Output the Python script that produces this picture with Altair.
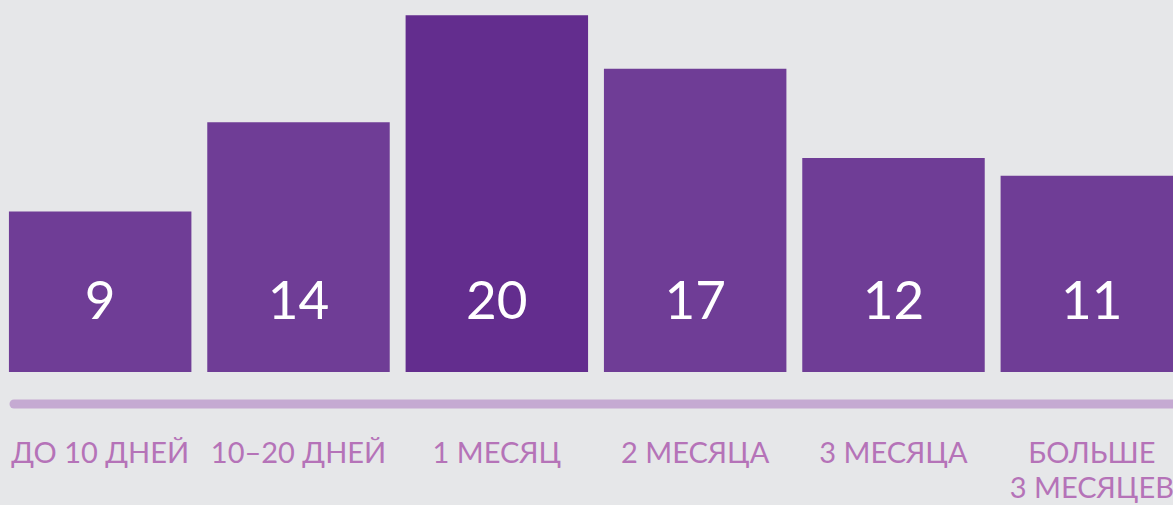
import altair as alt
import pandas as pd

categories = ["c1", "c2", "c3", "c4", "c5", "c6"]
labels = ["ДО 10 ДНЕЙ", "10–20 ДНЕЙ", "1 МЕСЯЦ", "2 МЕСЯЦА", "3 МЕСЯЦА", "БОЛЬШЕ\n3 МЕСЯЦЕВ"]
values = [9, 14, 20, 17, 12, 11]
highlight = ["no", "no", "yes", "no", "no", "no"]

df = pd.DataFrame({"cat": categories, "value": values, "label": labels, "hl": highlight})

BG = "#e6e7e9"
FONT = "Lato"

x = alt.X("cat:N", sort=None, axis=None,
          scale=alt.Scale(range=[1, 1191], paddingInner=0.08, paddingOuter=0.04))

base = alt.Chart(df)

bars = base.mark_bar(clip=True).encode(
    x=x,
    y=alt.Y("value:Q", axis=None, scale=alt.Scale(domain=[0, 20.85], range=[372, 0], nice=False, zero=True)),
    color=alt.Color("hl:N", legend=None,
                    scale=alt.Scale(domain=["no", "yes"], range=["#6f3d96", "#632d8e"])),
)

nums = base.mark_text(color="white", font=FONT, fontSize=53, baseline="middle", align="center").encode(
    x=x,
    y=alt.value(303),
    text=alt.Text("value:Q"),
)

line = alt.Chart(pd.DataFrame({"a": [0]})).mark_rule(
    color="#c5aad2", strokeWidth=9, strokeCap="round"
).encode(x=alt.value(14), x2=alt.value(1190), y=alt.value(404))

cat_labels = base.mark_text(color="#b573b8", font=FONT, fontSize=29, baseline="top",
                            align="center", lineBreak="\n", lineHeight=35).encode(
    x=x,
    y=alt.value(440),
    text="label:N",
)

chart = alt.layer(bars, nums, line, cat_labels).properties(
    width=1173, height=505,
    autosize=alt.AutoSizeParams(type="none"),
    padding=0,
    background=BG,
).configure_view(stroke=None)

chart.save("out.html", embed_options={"renderer": "svg", "actions": False})
